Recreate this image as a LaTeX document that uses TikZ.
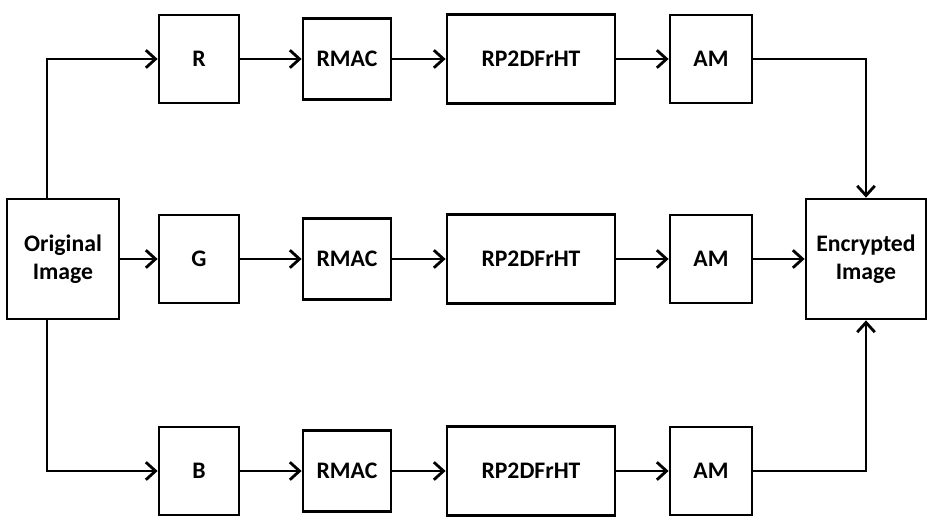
\documentclass[tikz,border=0pt]{standalone}
\usepackage{fontspec}
\setmainfont{Carlito}
\usetikzlibrary{arrows.meta}
\begin{document}
\begin{tikzpicture}[x=0.02cm,y=-0.02cm,
  blk/.style={draw,line width=1.6pt,inner sep=0pt,align=center,
    font=\fontsize{13.5}{16}\selectfont\bfseries},
  arr/.style={line width=1.6pt,-{Straight Barb[length=5.5pt,width=10pt]}}]
  \useasboundingbox (0,0) rectangle (927,520);
  \node[blk,minimum width=2.24cm,minimum height=2.4cm] (orig) at (63,259) {Original\\Image};
  \node[blk,minimum width=2.4cm,minimum height=2.4cm] (enc) at (866,259) {Encrypted\\Image};
  % red channel
  \node[blk,minimum width=1.6cm,minimum height=1.76cm] (R) at (199,59) {R};
  \node[blk,minimum width=1.76cm,minimum height=1.62cm] (rmac1) at (347,59) {RMAC};
  \node[blk,minimum width=3.36cm,minimum height=1.78cm] (rp1) at (531,59) {RP2DFrHT};
  \node[blk,minimum width=1.64cm,minimum height=1.76cm] (am1) at (711,59) {AM};
  % green channel
  \node[blk,minimum width=1.6cm,minimum height=1.76cm] (G) at (199,259) {G};
  \node[blk,minimum width=1.76cm,minimum height=1.62cm] (rmac2) at (347,259) {RMAC};
  \node[blk,minimum width=3.36cm,minimum height=1.78cm] (rp2) at (531,259) {RP2DFrHT};
  \node[blk,minimum width=1.64cm,minimum height=1.76cm] (am2) at (711,259) {AM};
  % blue channel
  \node[blk,minimum width=1.6cm,minimum height=1.76cm] (B) at (199,471) {B};
  \node[blk,minimum width=1.76cm,minimum height=1.62cm] (rmac3) at (347,471) {RMAC};
  \node[blk,minimum width=3.36cm,minimum height=1.78cm] (rp3) at (531,471) {RP2DFrHT};
  \node[blk,minimum width=1.64cm,minimum height=1.76cm] (am3) at (711,471) {AM};
  % connectors
  \draw[arr] ([xshift=-0.32cm]orig.north) |- (R);
  \draw[arr] (orig) -- (G);
  \draw[arr] ([xshift=-0.32cm]orig.south) |- (B);
  \draw[arr] (R) -- (rmac1);
  \draw[arr] (rmac1) -- (rp1);
  \draw[arr] (rp1) -- (am1);
  \draw[arr] (G) -- (rmac2);
  \draw[arr] (rmac2) -- (rp2);
  \draw[arr] (rp2) -- (am2);
  \draw[arr] (B) -- (rmac3);
  \draw[arr] (rmac3) -- (rp3);
  \draw[arr] (rp3) -- (am3);
  \draw[arr] (am1) -| (enc);
  \draw[arr] (am2) -- (enc);
  \draw[arr] (am3) -| (enc);
\end{tikzpicture}
\end{document}
